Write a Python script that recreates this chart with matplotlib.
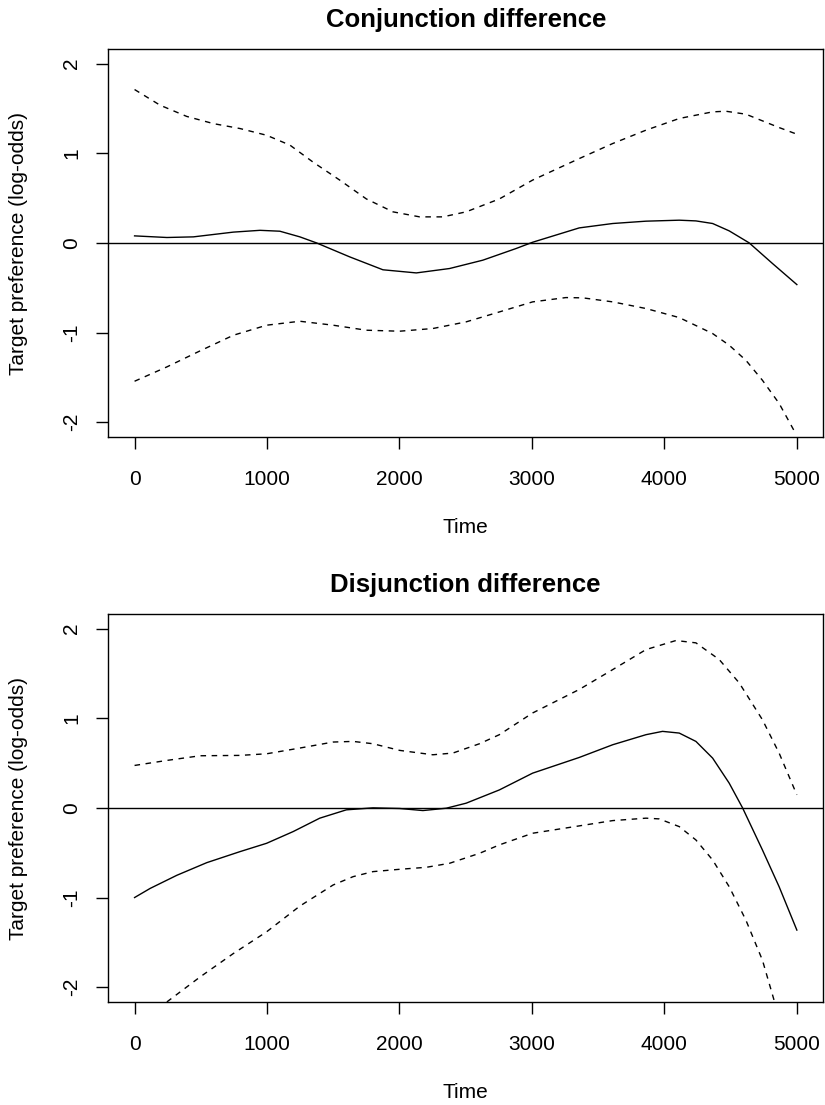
import numpy as np
import matplotlib
matplotlib.use("Agg")
import matplotlib.pyplot as plt

plt.rcParams['font.family'] = ['Liberation Sans', 'DejaVu Sans']
plt.rcParams['axes.unicode_minus'] = False

# conjunction panel
conj_x = [0, 244, 444, 746, 947, 1097, 1248, 1373, 1624, 1875, 2127, 2378, 2629,
          2880, 3005, 3357, 3610, 3861, 4112, 4238, 4364, 4489, 4640, 4816, 5000]
conj_fit = [0.078, 0.06, 0.067, 0.12, 0.14, 0.13, 0.067, 0.0, -0.156, -0.30, -0.335, -0.286, -0.193,
            -0.063, 0.007, 0.167, 0.216, 0.242, 0.253, 0.245, 0.216, 0.134, 0.0, -0.23, -0.465]
conj_up_x = [0, 193, 394, 595, 796, 997, 1173, 1348, 1549, 1750, 1951, 2152, 2327,
             2503, 2754, 3005, 3357, 3610, 3861, 4112, 4364, 4464, 4615, 4866, 5000]
conj_up = [1.71, 1.535, 1.41, 1.33, 1.275, 1.20, 1.09, 0.90, 0.70, 0.49, 0.346, 0.29, 0.29,
           0.346, 0.49, 0.70, 0.94, 1.108, 1.257, 1.387, 1.461, 1.468, 1.435, 1.286, 1.212]
conj_lo_x = [0, 244, 495, 746, 997, 1248, 1499, 1750, 2001, 2252, 2503, 2754,
             3005, 3256, 3384, 3610, 3861, 4112, 4364, 4489, 4615, 4740, 4866, 4991]
conj_lo = [-1.543, -1.383, -1.204, -1.03, -0.918, -0.874, -0.918, -0.974, -0.985, -0.955, -0.881, -0.77,
           -0.658, -0.61, -0.613, -0.658, -0.732, -0.833, -1.011, -1.141, -1.309, -1.532, -1.79, -2.126]

# disjunction panel
disj_x = [0, 118, 319, 545, 796, 997, 1198, 1398, 1599, 1800, 2001, 2177, 2353, 2503,
          2754, 3005, 3357, 3610, 3861, 3986, 4112, 4238, 4364, 4489, 4590, 4740, 4866, 5000]
disj_fit = [-1.0, -0.898, -0.752, -0.611, -0.488, -0.395, -0.264, -0.115, -0.022, 0.0, -0.007, -0.03,
            -0.004, 0.052, 0.20, 0.387, 0.562, 0.704, 0.816, 0.853, 0.834, 0.741, 0.555, 0.276,
            0.0, -0.469, -0.879, -1.363]
disj_up_x = [0, 244, 495, 796, 997, 1248, 1499, 1650, 1800, 2001, 2252, 2403, 2604,
             2754, 3005, 3357, 3610, 3861, 4087, 4238, 4414, 4565, 4740, 4866, 5000]
disj_up = [0.473, 0.529, 0.581, 0.585, 0.603, 0.667, 0.734, 0.741, 0.715, 0.641, 0.592, 0.611, 0.715,
           0.816, 1.058, 1.32, 1.542, 1.765, 1.866, 1.84, 1.654, 1.393, 0.983, 0.611, 0.145]
disj_lo_x = [244, 495, 746, 997, 1248, 1499, 1650, 1800, 2001, 2202, 2378, 2604,
             2754, 3005, 3357, 3610, 3861, 3961, 4112, 4238, 4364, 4489, 4615, 4740, 4828]
disj_lo = [-2.164, -1.885, -1.624, -1.382, -1.095, -0.86, -0.767, -0.711, -0.685, -0.663, -0.618, -0.507,
           -0.413, -0.283, -0.201, -0.142, -0.115, -0.123, -0.209, -0.358, -0.581, -0.879, -1.251,
           -1.698, -2.145]

panels = [
    ("Conjunction difference", conj_x, conj_fit, conj_up_x, conj_up, conj_lo_x, conj_lo),
    ("Disjunction difference", disj_x, disj_fit, disj_up_x, disj_up, disj_lo_x, disj_lo),
]

fig = plt.figure(figsize=(8.25, 11.05), dpi=100)
boxes = [[0.131, 0.6045, 0.867, 0.351], [0.131, 0.0932, 0.867, 0.351]]

for box, (title, x, fit, ux, up, lx, lo) in zip(boxes, panels):
    ax = fig.add_axes(box)
    ax.plot(x, fit, color='black', lw=1.0)
    ax.plot(ux, up, color='black', lw=1.0, linestyle=(0, (4, 4)))
    ax.plot(lx, lo, color='black', lw=1.0, linestyle=(0, (4, 4)))
    ax.axhline(0, color='black', lw=1.0)
    ax.set_xlim(-200, 5200)
    ax.set_ylim(-2.165, 2.16)
    ax.set_xticks([0, 1000, 2000, 3000, 4000, 5000])
    ax.set_yticks([-2, -1, 0, 1, 2])
    ax.tick_params(length=8.5, width=1.0, labelsize=15)
    ax.tick_params(axis='x', pad=15)
    ax.tick_params(axis='y', pad=11, labelrotation=90)
    plt.setp(ax.get_yticklabels(), va='center')
    for s in ax.spines.values():
        s.set_linewidth(1.0)
    ax.set_title(title, fontsize=18.5, fontweight='bold', y=1.0747, pad=0, va='center')
    ax.set_xlabel("Time", fontsize=15, va='center')
    ax.xaxis.set_label_coords(0.5, -0.2345)
    ax.set_ylabel("Target preference (log-odds)", fontsize=15, va='center')
    ax.yaxis.set_label_coords(-0.1258, 0.5)

fig.savefig("out.png", dpi=100)
